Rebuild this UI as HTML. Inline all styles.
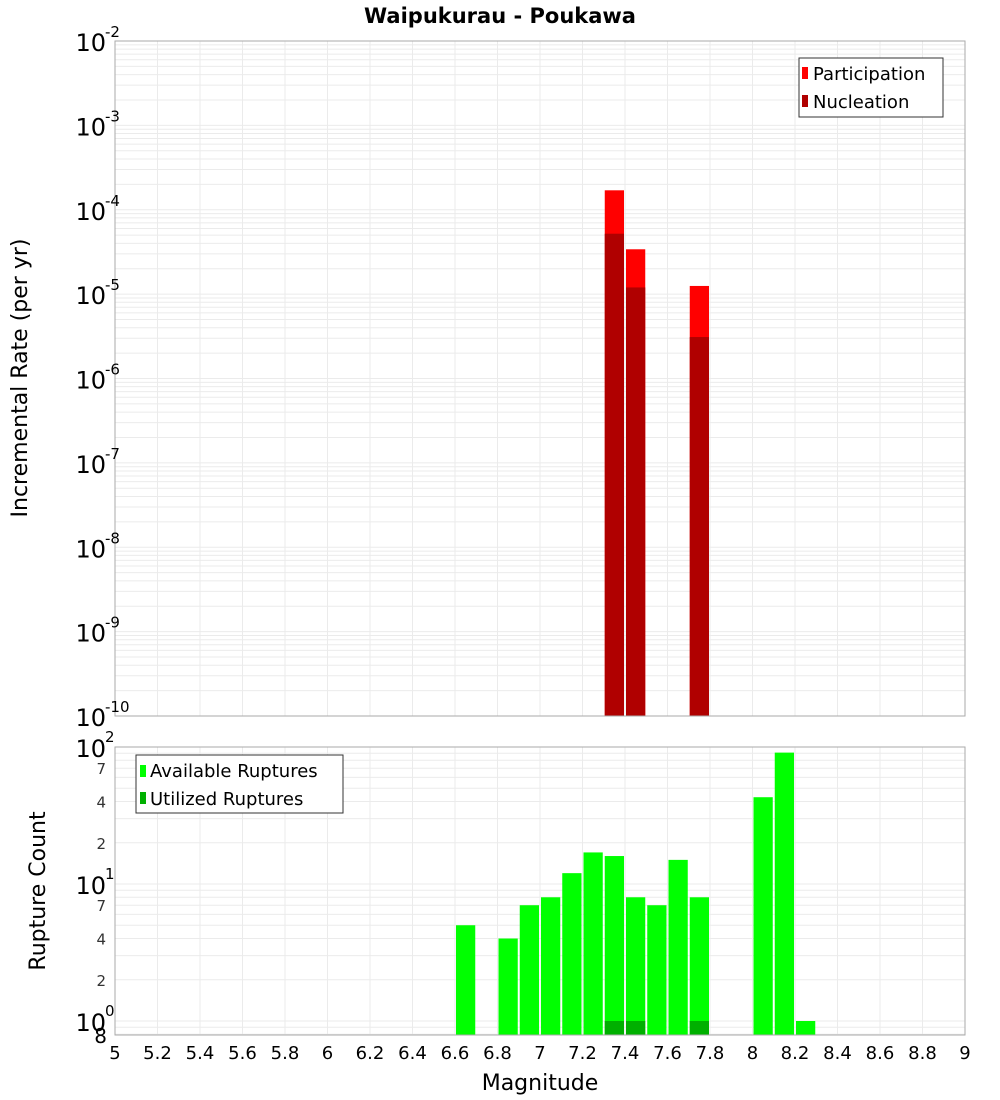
<!DOCTYPE html>
<html><head><meta charset="utf-8"><style>
html,body{margin:0;padding:0;background:#fff;}
svg{display:block;font-family:"DejaVu Sans","Liberation Sans",sans-serif;}
</style></head><body>
<svg id="c" width="1000" height="1100" xmlns="http://www.w3.org/2000/svg"></svg>
<script>
const topMags=[7.35,7.45,7.75];
const participation=[1.7e-4,3.4e-5,1.25e-5];
const nucleation=[5.2e-5,1.2e-5,3.1e-6];
const botMags=[6.65,6.85,6.95,7.05,7.15,7.25,7.35,7.45,7.55,7.65,7.75,8.05,8.15,8.25];
const available=[5,4,7,8,12,17,16,8,7,15,8,43,91,1];
const utilMags=[7.35,7.45,7.75];
const utilized=[1,1,1];
const xTicks=[5,5.2,5.4,5.6,5.8,6,6.2,6.4,6.6,6.8,7,7.2,7.4,7.6,7.8,8,8.2,8.4,8.6,8.8,9];
const topExps=[-2,-3,-4,-5,-6,-7,-8,-9,-10];
const botMinor=[2,4,7];

const svg=document.getElementById('c');
const NS='http://www.w3.org/2000/svg';
function mk(tag,attrs,parent){const e=document.createElementNS(NS,tag);for(const k in attrs)e.setAttribute(k,attrs[k]);(parent||svg).appendChild(e);return e;}
const X0=115,X1=965;
const x=m=>X0+(m-5)/4*(X1-X0);
const T0=41,T1=716;
const yTop=v=>T0+(-2-Math.log10(v))*(T1-T0)/8;
const B0=747,BD=137;
const yBot=v=>B0+(2-Math.log10(v))*BD;
const B1=1035;

mk('rect',{x:X0,y:T0,width:X1-X0,height:T1-T0,fill:'#fff',});
mk('rect',{x:X0,y:B0,width:X1-X0,height:B1-B0,fill:'#fff',});

const gT=mk('g',{stroke:'#ebebeb','stroke-width':1,});
const gB=mk('g',{stroke:'#ebebeb','stroke-width':1,});
xTicks.forEach(t=>{const xx=x(t);mk('line',{x1:xx,x2:xx,y1:T0,y2:T1},gT);mk('line',{x1:xx,x2:xx,y1:B0,y2:B1},gB);});
for(let e=-10;e<-2;e++){for(let k=1;k<10;k++){const yy=yTop(k*Math.pow(10,e));mk('line',{x1:X0,x2:X1,y1:yy,y2:yy},gT);}}
for(let e=-1;e<2;e++){for(let k=1;k<10;k++){const v=k*Math.pow(10,e);const yy=yBot(v);if(yy<B0-0.5||yy>B1)continue;mk('line',{x1:X0,x2:X1,y1:yy,y2:yy},gB);}}

const bw=0.1*(X1-X0)/4;
topMags.forEach((m,i)=>{
 const l=x(m)-bw/2+1;
 const r=mk('rect',{x:l,y:yTop(participation[i]),width:bw-2,height:T1-yTop(participation[i]),fill:'#ff0000'});
 
 
 const n=mk('rect',{x:l,y:yTop(nucleation[i]),width:bw-2,height:T1-yTop(nucleation[i]),fill:'#b00000'});
 
 
});
botMags.forEach((m,i)=>{
 const l=x(m)-bw/2+1;
 const r=mk('rect',{x:l,y:yBot(available[i]),width:bw-2,height:B1-yBot(available[i]),fill:'#00ff00'});
 
 
});
utilMags.forEach((m,i)=>{
 const l=x(m)-bw/2+1;
 const r=mk('rect',{x:l,y:yBot(utilized[i]),width:bw-2,height:B1-yBot(utilized[i]),fill:'#00b000'});
 
 
});

mk('rect',{x:X0,y:T0,width:X1-X0,height:T1-T0,fill:'none',stroke:'#aaa',});
mk('rect',{x:X0,y:B0,width:X1-X0,height:B1-B0,fill:'none',stroke:'#aaa',});

topExps.forEach(e=>{
 const yy=yTop(Math.pow(10,e));
 const t=mk('text',{x:X0-9,y:yy+10,'font-size':24,'text-anchor':'end',fill:'#000'});
 
 
 t.textContent='10';
 const s=mk('text',{x:X0-10,y:yy-4,'font-size':15,fill:'#000'});
 
 
 s.textContent=String(e);
});
[2,1,0].forEach(e=>{
 const yy=yBot(Math.pow(10,e));
 const t=mk('text',{x:X0-9,y:yy+10,'font-size':24,'text-anchor':'end',fill:'#000'});
 
 
 t.textContent='10';
 const s=mk('text',{x:X0-10,y:yy-5,'font-size':15,fill:'#000'});
 
 
 s.textContent=String(e);
});
[0,1].forEach(e=>{botMinor.forEach(k=>{
 const yy=yBot(k*Math.pow(10,e));
 const t=mk('text',{x:X0-9,y:yy+6,'font-size':15,'text-anchor':'end',fill:'#333'});
 
 
 t.textContent=String(k);
});});
{const t=mk('text',{x:X0-8,y:B1+8,'font-size':20,'text-anchor':'end',fill:'#000'});
 
 
 t.textContent='8';}

xTicks.forEach(v=>{
 const t=mk('text',{x:x(v),y:1059,'font-size':18,'text-anchor':'middle',fill:'#000'});
 
 
 t.textContent=String(v);
});
</script>
<svg width="1000" height="1100" style="position:absolute;left:0;top:0" xmlns="http://www.w3.org/2000/svg">
<text x="500" y="23" font-size="21" font-weight="bold" text-anchor="middle">Waipukurau - Poukawa</text>
<text transform="translate(27,378) rotate(-90)" font-size="22" text-anchor="middle">Incremental Rate (per yr)</text>
<text transform="translate(45,891) rotate(-90)" font-size="22" text-anchor="middle">Rupture Count</text>
<text x="540" y="1090" font-size="22" text-anchor="middle">Magnitude</text>
<g font-size="18">
<rect x="799" y="58" width="144" height="59" fill="#fff" stroke="#333"/>
<rect x="802" y="67" width="6" height="12" fill="#ff0000"/>
<text x="813" y="80">Participation</text>
<rect x="802" y="95" width="6" height="12" fill="#b00000"/>
<text x="813" y="108">Nucleation</text>
</g>
<g font-size="18">
<rect x="136" y="755" width="207" height="58" fill="#fff" stroke="#333"/>
<rect x="140" y="765" width="6" height="12" fill="#00ff00"/>
<text x="150" y="777">Available Ruptures</text>
<rect x="140" y="792" width="6" height="12" fill="#00b000"/>
<text x="150" y="805">Utilized Ruptures</text>
</g>
</svg>
</body></html>
